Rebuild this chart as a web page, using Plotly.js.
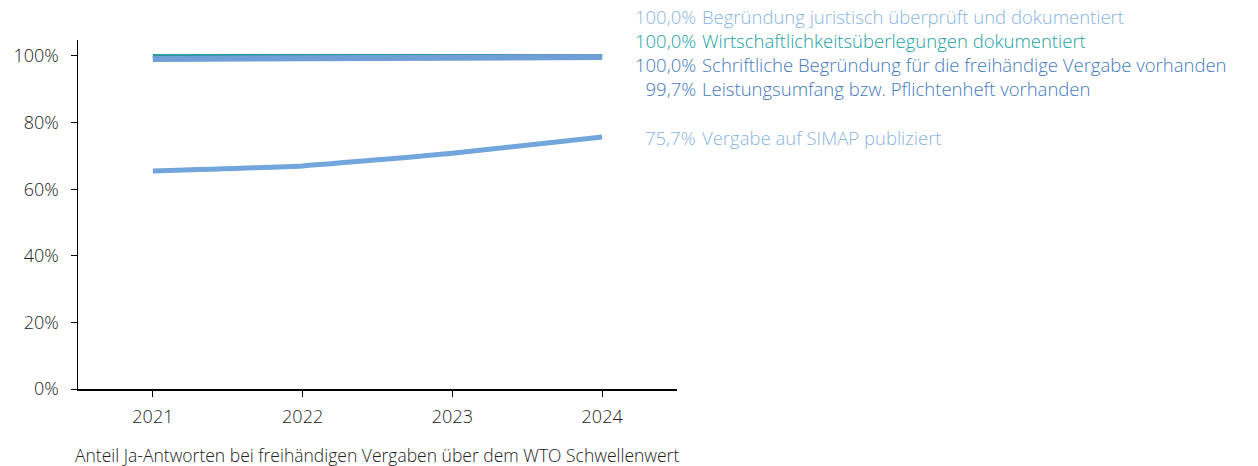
<!DOCTYPE html>
<html>
<head>
<meta charset="utf-8">
<script src="https://cdn.plot.ly/plotly-3.0.1.min.js"></script>
<style>html,body{margin:0;padding:0;background:#fff;}#chart{width:1258px;height:466px;}</style>
</head>
<body>
<div id="chart"></div>
<script>
const years = [2021, 2022, 2023, 2024];
const begruendungJuristisch = [100, 100, 100, 100];
const wirtschaftlichkeit = [100, 100, 100, 100];
const schriftlicheBegruendung = [99.5, 99.6, 99.8, 100];
const leistungsumfang = [99.1, 99.3, 99.5, 99.7];
const simap = [65.5, 67.0, 70.8, 75.7];

const seriesNames = [
  "Begründung juristisch überprüft und dokumentiert",
  "Wirtschaftlichkeitsüberlegungen dokumentiert",
  "Schriftliche Begründung für die freihändige Vergabe vorhanden",
  "Leistungsumfang bzw. Pflichtenheft vorhanden",
  "Vergabe auf SIMAP publiziert"
];
const seriesData = [begruendungJuristisch, wirtschaftlichkeit, schriftlicheBegruendung, leistungsumfang, simap];
const lineColors = ["#8db6e0", "#2a9f95", "#3d78be", "#6f9fd6", "#72a5dc"];
const lineWidths = [4, 4, 4, 6, 5];
const labelColors = ["#8ab4df", "#22a0a4", "#4479c0", "#4479c0", "#8ab4df"];

const FONT = "Open Sans, Noto Sans, sans-serif";
const LABEL_SIZE = 18.5;
const H = 466, T = 40, B = 77;
const plotH = H - T - B;
const toPaperY = py => (H - B - py) / plotH;
const toPaperX = px => (px - 78) / 599;

const traces = seriesData.map((vals, i) => ({
  x: years, y: vals, type: "scatter", mode: "lines",
  name: seriesNames[i],
  line: {color: lineColors[i], width: lineWidths[i], shape: "spline", smoothing: 0.4},
  hoverinfo: "skip"
}));

const fmt = v => v.toFixed(1).replace(".", ",") + "%";
const colored = (s, c) => `<span style="color:${c}">${s}</span>`;

// block of the four ~100% labels (stacked lines)
const topIdx = [0, 1, 2, 3];
const numBlock = topIdx.map(i => colored(fmt(seriesData[i][seriesData[i].length - 1]), labelColors[i])).join("<br>");
const nameBlock = topIdx.map(i => colored(seriesNames[i], labelColors[i])).join("<br>");

const annotations = [
  {xref: "paper", yref: "paper", x: toPaperX(697), y: toPaperY(52),
   xanchor: "right", yanchor: "middle", align: "right", showarrow: false, borderpad: 0,
   text: numBlock, font: {family: FONT, size: LABEL_SIZE, weight: 300}},
  {xref: "paper", yref: "paper", x: toPaperX(701), y: toPaperY(52),
   xanchor: "left", yanchor: "middle", align: "left", showarrow: false, borderpad: 0,
   text: nameBlock, font: {family: FONT, size: LABEL_SIZE, weight: 300}},
  {xref: "paper", yref: "paper", x: toPaperX(697), y: toPaperY(137),
   xanchor: "right", yanchor: "middle", showarrow: false, borderpad: 0,
   text: fmt(simap[simap.length - 1]), font: {family: FONT, size: LABEL_SIZE, color: labelColors[4], weight: 300}},
  {xref: "paper", yref: "paper", x: toPaperX(701), y: toPaperY(137),
   xanchor: "left", yanchor: "middle", showarrow: false, borderpad: 0,
   text: seriesNames[4], font: {family: FONT, size: LABEL_SIZE, color: labelColors[4], weight: 300}},
  {xref: "paper", yref: "paper", x: toPaperX(73), y: toPaperY(455),
   xanchor: "left", yanchor: "middle", showarrow: false,
   text: "Anteil Ja-Antworten bei freihändigen Vergaben über dem WTO Schwellenwert",
   font: {family: FONT, size: 17.5, color: "#222", weight: 300}}
];

const layout = {
  width: 1258, height: 466,
  margin: {l: 78, r: 581, t: T, b: B},
  paper_bgcolor: "#fff", plot_bgcolor: "#fff",
  showlegend: false,
  font: {family: FONT, size: 18, color: "#222"},
  xaxis: {
    range: [2020.5, 2024.5], tickvals: years, ticktext: years.map(String),
    showgrid: false, zeroline: false, showline: true, linecolor: "#000", linewidth: 1.5,
    ticks: "outside", ticklen: 6, tickcolor: "#000", tickwidth: 1,
    tickfont: {family: FONT, size: 18, color: "#222", weight: 300}, ticklabelstandoff: 5
  },
  yaxis: {
    range: [0, 104.8], tickvals: [0, 20, 40, 60, 80, 100], ticktext: ["0%", "20%", "40%", "60%", "80%", "100%"],
    showgrid: false, zeroline: false, showline: true, linecolor: "#000", linewidth: 1.5,
    ticks: "outside", ticklen: 6, tickcolor: "#000", tickwidth: 1,
    tickfont: {family: FONT, size: 18, color: "#222", weight: 300}, ticklabelstandoff: 8
  },
  annotations: annotations
};

Plotly.newPlot("chart", traces, layout, {staticPlot: true, displayModeBar: false});
</script>
</body>
</html>
